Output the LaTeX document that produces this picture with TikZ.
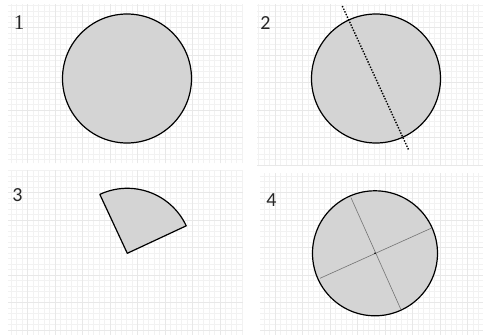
\documentclass[tikz,border=0pt]{standalone}
\usepackage{fontspec}
\setmainfont{Carlito}
\newfontfamily\serifnum{Liberation Serif}
\begin{document}
\begin{tikzpicture}[x=1pt,y=-1pt,
  minorgrid/.style={draw=black!5,line width=0.5pt},
  majorgrid/.style={draw=black!9,line width=0.6pt},
  disc/.style={fill=black!17,draw=black,line width=1.2pt},
  numlabel/.style={font=\fontsize{20}{20}\selectfont,text=black!85,inner sep=0pt},
  axisline/.style={draw=black!55,line width=0.6pt}]
\useasboundingbox (0,0) rectangle (483,335);
\fill[white] (0,0) rectangle (483,335);
% grids
\foreach \xa/\ya/\xb/\yb in {8/4/243/163, 257/4/483/166, 8/170/243/335, 260/173/483/335}{
  \begin{scope}
  \clip (\xa,\ya) rectangle (\xb,\yb);
  \draw[minorgrid] (\xa,\ya) grid[step=5.5pt] (\xb,\yb);
  \draw[majorgrid] (\xa,\ya) grid[step=27.5pt] (\xb,\yb);
  \end{scope}
}
% panel 1
\node[numlabel,font=\serifnum\fontsize{21}{21}\selectfont] (l1) at (19,23) {1};
\draw[disc] (127,78.5) circle[radius=64.5];
% panel 2
\node[numlabel] (l2) at (265.5,23) {2};
\draw[disc] (376,78.5) circle[radius=64.5];
\coordinate (d1) at (342.3,6);
\coordinate (d2) at (409,150.7);
\draw[black,line width=1.4pt,dash pattern=on 1.4pt off 1.5pt] (d1) -- (d2);
% panel 3
\node[numlabel] (l3) at (17.5,195) {3};
\coordinate (apex) at (127.3,253.3);
\draw[disc,line join=round] (apex) -- ++(-115:65) arc[start angle=-115,end angle=-25,radius=65] -- cycle;
% panel 4
\node[numlabel] (l4) at (271.5,200) {4};
\draw[disc] (375,253.3) circle[radius=62.5];
\coordinate (c4) at (375,253.3);
\draw[axisline] (351,197.7) -- (400.7,309);
\draw[axisline] (320,278.3) -- (431,228.3);
\fill (c4) circle[radius=0.9];
\end{tikzpicture}
\end{document}
